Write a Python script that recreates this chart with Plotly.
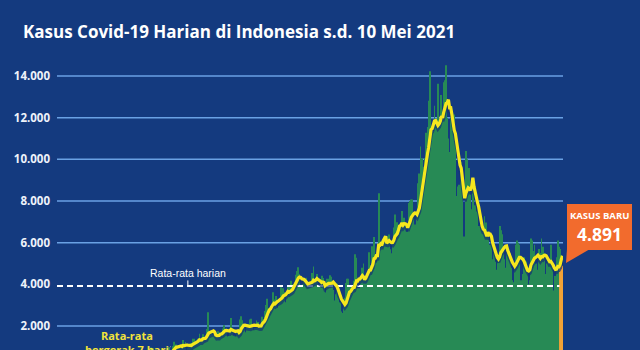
import pandas as pd
import plotly.graph_objects as go

# ---------------- data ----------------
START_DATE = "2020-03-02"
END_DATE = "2021-05-10"

cases_2020_03 = [2, 0, 0, 0, 2, 0, 2, 13, 8, 7, 0, 35, 27, 21, 17, 38, 55, 82, 60, 81,
                 64, 65, 107, 104, 103, 153, 109, 130, 129, 114]
cases_2020_04 = [149, 113, 196, 106, 181, 218, 247, 218, 337, 219, 330, 399, 316, 282, 297,
                 380, 407, 325, 327, 185, 375, 283, 357, 436, 396, 275, 214, 415, 260, 347]
cases_2020_05 = [433, 292, 349, 395, 484, 367, 338, 336, 533, 387, 233, 484, 689, 568, 490,
                 529, 489, 496, 486, 693, 973, 634, 949, 526, 479, 415, 686, 687, 678, 557, 700]
cases_2020_06 = [467, 609, 684, 585, 703, 993, 672, 847, 1043, 1241, 979, 1111, 1014, 857, 1017,
                 1106, 1031, 1331, 1041, 1226, 862, 954, 1051, 1113, 1178, 1385, 1385, 1198, 1082, 1293]
cases_2020_07 = [1385, 1624, 1301, 1447, 1607, 1209, 1268, 1853, 2657, 1611, 1671, 1681, 1282, 1591,
                 1522, 1574, 1462, 1752, 1639, 1693, 1655, 1882, 2040, 1761, 1868, 1492, 1525, 1748,
                 2381, 1904, 1519]
cases_2020_08 = [1560, 1519, 1679, 1815, 1815, 2307, 2473, 2277, 1893, 1687, 1693, 1942, 2098, 2307,
                 2345, 2081, 1821, 1673, 1902, 2266, 2197, 2037, 2085, 1877, 2447, 2306, 2719, 3003,
                 3308, 2858, 2743]
cases_2020_09 = [2775, 3075, 3622, 3269, 3128, 3444, 2880, 3046, 3307, 3861, 3737, 3806, 3636, 3141,
                 3507, 3963, 3635, 3891, 4168, 3989, 3989, 4071, 4465, 4634, 4823, 4494, 3874, 3509,
                 4002, 4284]
cases_2020_10 = [4174, 4317, 4007, 3992, 3622, 4056, 4538, 4850, 4094, 4294, 4497, 3267, 3906, 4127,
                 4411, 4301, 4105, 3373, 3602, 4267, 4267, 4432, 4369, 4070, 3732, 3222, 3520, 4029,
                 3565, 2897, 3143]
cases_2020_11 = [2696, 2618, 2973, 3356, 4065, 4262, 4262, 3880, 2853, 3779, 3770, 4173, 5444, 5272,
                 3807, 3535, 3807, 4265, 4798, 4998, 4360, 4345, 4442, 4192, 5534, 4917, 5828, 5418,
                 6267, 4617]
cases_2020_12 = [5092, 5533, 8369, 5803, 6027, 6089, 5754, 6058, 6058, 6033, 6310, 6388, 5681, 5489,
                 6120, 6725, 7354, 6689, 6982, 6848, 6848, 6347, 7514, 6664, 7193, 6915, 6528, 5854,
                 7903, 8002, 8074]
cases_2021_01 = [8072, 7203, 6877, 5837, 7445, 8854, 9321, 10617, 10046, 9640, 8692, 10047, 11278,
                 11557, 12818, 14224, 11287, 9086, 11365, 12568, 11703, 11749, 13632, 11788, 9994,
                 13094, 11948, 13695, 13802, 14518, 12001]
cases_2021_02 = [10994, 10347, 11984, 11434, 10862, 12156, 10880, 8242, 8700, 8776, 8435, 9869, 8844,
                 6300, 6000, 10400, 10000, 9039, 9584, 8300, 7600, 8900, 7400, 7800, 7500, 8000, 6800,
                 5000]
cases_2021_03 = [6680, 5712, 6808, 7264, 6971, 5767, 6300, 5800, 5900, 6100, 5200, 5600, 5100, 4700,
                 4400, 5400, 6800, 6600, 6400, 5600, 5200, 4800, 5500, 5300, 5300, 5500, 4800, 4200,
                 4100, 4900, 5900]
cases_2021_04 = [6100, 6000, 5900, 4200, 3800, 4500, 5300, 5000, 5100, 4800, 4000, 4200, 6200, 6100,
                 5600, 5900, 5000, 4300, 4700, 5700, 5500, 6200, 5800, 5500, 4400, 4500, 5000, 5200,
                 5200, 5900]
cases_2021_05 = [5000, 3700, 3600, 4400, 5300, 6100, 5800, 5700, 5400, 4891]

TICK_VALUES = [2000, 4000, 6000, 8000, 10000, 12000, 14000]

TITLE = "Kasus Covid-19 Harian di Indonesia s.d. 10 Mei 2021"
AVG_LABEL = "Rata-rata harian"
MA_LABEL = "Rata-rata<br>bergerak 7 hari"
NEW_LABEL = "KASUS BARU"

# ---------------- derived ----------------
daily_cases = (cases_2020_03 + cases_2020_04 + cases_2020_05 + cases_2020_06 + cases_2020_07
               + cases_2020_08 + cases_2020_09 + cases_2020_10 + cases_2020_11 + cases_2020_12
               + cases_2021_01 + cases_2021_02 + cases_2021_03 + cases_2021_04 + cases_2021_05)
dates = pd.date_range(START_DATE, END_DATE, freq="D")
assert len(dates) == len(daily_cases), (len(dates), len(daily_cases))

series = pd.Series(daily_cases, index=dates)
moving_avg = series.rolling(7).mean()
daily_mean = series.mean()

def fmt(v):
    return f"{v:,}".replace(",", ".")

TICK_TEXT = [fmt(v) for v in TICK_VALUES]
GRID_VALUES = [v for v in TICK_VALUES if v != 4000]

# ---------------- style ----------------
W, H = 640, 350
M_L, M_R, M_T, M_B = 57, 77, 60, 0
PLOT_W = W - M_L - M_R
PLOT_H = H - M_T - M_B
Y_RANGE = [848, 14768]
UNITS_PER_PX = (Y_RANGE[1] - Y_RANGE[0]) / PLOT_H
SHADOW_PX = 3

BG = "#143a7f"
GRID = "#6aa1e4"
GREEN = "#278a55"
YELLOW = "#f6e71e"
ORANGE_BAR = "#f2a236"
ORANGE_BOX = "#f26b2d"

half_day = pd.Timedelta(hours=12)
x_range = [dates[0] - half_day, dates[-1] + half_day]

def paper_x(px):
    return (px - M_L) / PLOT_W

def paper_y(py):
    return (H - M_B - py) / PLOT_H

fig = go.Figure()

fig.add_trace(go.Bar(
    x=dates[:-1], y=daily_cases[:-1],
    marker=dict(color=GREEN, line=dict(width=0)),
    hoverinfo="skip", showlegend=False,
))
day_ms = 24 * 3600 * 1000
fig.add_trace(go.Bar(
    x=[dates[-1]], y=[daily_cases[-1]],
    width=[3.4 * day_ms], offset=[-2.9 * day_ms],
    marker=dict(color=ORANGE_BAR, line=dict(width=0)),
    hoverinfo="skip", showlegend=False,
))
fig.add_trace(go.Scatter(
    x=[x_range[0], dates[-1] - pd.Timedelta(days=2.5)], y=[daily_mean, daily_mean],
    mode="lines", line=dict(color="white", width=2, dash="6px,4px"),
    hoverinfo="skip", showlegend=False,
))
# soft shadow of the moving-average line, drawn a few pixels lower on an overlay axis
fig.add_trace(go.Scatter(
    x=dates, y=moving_avg, yaxis="y2",
    mode="lines", line=dict(color="rgba(20,50,115,0.7)", width=4),
    hoverinfo="skip", showlegend=False,
))
fig.add_trace(go.Scatter(
    x=dates, y=moving_avg, yaxis="y3",
    mode="lines", line=dict(color=YELLOW, width=3.2),
    hoverinfo="skip", showlegend=False,
))

shapes = []
for v in GRID_VALUES:
    shapes.append(dict(type="line", xref="paper", yref="y", x0=0, x1=1, y0=v, y1=v,
                       line=dict(color=GRID, width=1.5), layer="below"))
shapes.append(dict(type="rect", xref="paper", yref="paper",
                   x0=paper_x(567), x1=paper_x(632), y0=paper_y(250), y1=paper_y(204),
                   fillcolor=ORANGE_BOX, line=dict(width=0), layer="above"))
shapes.append(dict(type="path", xref="paper", yref="paper",
                   path=(f"M {paper_x(567)} {paper_y(249)} L {paper_x(590)} {paper_y(249)} "
                         f"L {paper_x(566)} {paper_y(263)} Z"),
                   fillcolor=ORANGE_BOX, line=dict(width=0), layer="above"))

annotations = [
    dict(x=pd.Timestamp("2020-06-22"), y=daily_mean, xref="x", yref="y",
         text=AVG_LABEL, showarrow=True, ax=0, ay=-13, arrowhead=0, arrowwidth=1,
         arrowcolor="white", standoff=0,
         font=dict(family="Liberation Sans, Arial, sans-serif", size=10.5, color="white")),
    dict(x=pd.Timestamp("2020-06-08"), y=1000, xref="x", yref="y",
         text=MA_LABEL, showarrow=True, ax=-45, ay=-4, arrowhead=0, arrowwidth=1,
         arrowcolor="#c9cfd8", standoff=1, align="center",
         font=dict(family="Open Sans, sans-serif", size=11, color="#f2e33a", weight="bold")),
    dict(x=paper_x(599.5), y=paper_y(215), xref="paper", yref="paper",
         text=NEW_LABEL, showarrow=False, xanchor="center", yanchor="middle",
         font=dict(family="Open Sans, sans-serif", size=9.5, color="white", weight="bold")),
    dict(x=paper_x(599.5), y=paper_y(234), xref="paper", yref="paper",
         text=fmt(daily_cases[-1]), showarrow=False, xanchor="center", yanchor="middle",
         font=dict(family="Open Sans, sans-serif", size=17.5, color="white", weight="bold")),
]

fig.update_layout(
    width=W, height=H,
    margin=dict(l=M_L, r=M_R, t=M_T, b=M_B, pad=0),
    paper_bgcolor=BG, plot_bgcolor=BG,
    barmode="overlay", bargap=0.2,
    showlegend=False,
    title=dict(text=TITLE, x=23 / W, xref="container", xanchor="left",
               y=1 - 32.5 / H, yref="container", yanchor="middle",
               font=dict(family="Open Sans, sans-serif", size=17, color="white", weight="bold")),
    xaxis=dict(type="date", range=x_range, visible=False, showgrid=False, fixedrange=True),
    yaxis=dict(range=Y_RANGE, tickvals=TICK_VALUES, ticktext=TICK_TEXT, showgrid=False,
               zeroline=False, showline=False, ticks="", ticklabelstandoff=6,
               tickfont=dict(family="Open Sans, sans-serif", size=11.5, color="#eef2fa",
                             weight="bold")),
    yaxis2=dict(range=[Y_RANGE[0] + SHADOW_PX * UNITS_PER_PX, Y_RANGE[1] + SHADOW_PX * UNITS_PER_PX],
                overlaying="y", visible=False, showgrid=False),
    yaxis3=dict(range=Y_RANGE, overlaying="y", visible=False, showgrid=False),
    shapes=shapes,
    annotations=annotations,
)

fig.write_html("out.html")
